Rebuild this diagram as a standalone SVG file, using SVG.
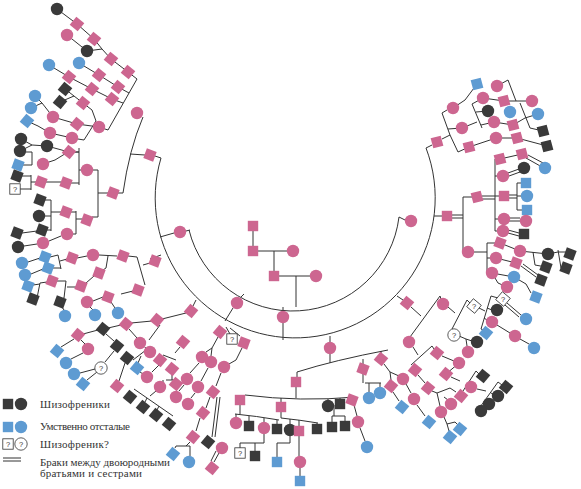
<svg xmlns="http://www.w3.org/2000/svg" xmlns:xlink="http://www.w3.org/1999/xlink" width="581" height="489" viewBox="0 0 581 489">
<style>
.p{fill:#cd6690}.k{fill:#3a3a3a}.b{fill:#5e9bd2}.q{fill:#fff;stroke:#333;stroke-width:0.8}
.c path{fill:none;stroke:#333;stroke-width:1}
.t{font-family:"Liberation Serif","DejaVu Serif",serif;font-size:11px;fill:#333}
.qm{font-family:"Liberation Sans",sans-serif;font-size:7.5px;fill:#333;text-anchor:middle}
</style>
<defs>
<rect id="s0" x="-5.2" y="-5.2" width="10.4" height="10.4"/>
<rect id="s20" x="-5.2" y="-5.2" width="10.4" height="10.4" transform="rotate(20)"/>
<rect id="s40" x="-5.2" y="-5.2" width="10.4" height="10.4" transform="rotate(40)"/>
<rect id="sm" x="-5.2" y="-5.2" width="10.4" height="10.4" transform="rotate(-15)"/>
<circle id="o" r="6.2"/>
</defs>
<rect width="581" height="489" fill="#fff"/>
<g id="connectors" class="c">
<path d="M161,158 A140,140 0 1 0 426,148 M189,230 A107,107 0 0 0 399,217 M253,231 V246 M258,251 H287 M274,251 V271 M279,276 H310 M296,276 V307 M186,231 L190,230 M405,220 L399,217 M241,297 L244,294 M233,308 L225,321 M283,307 V311 M283,323 V340 M155,156 L161,158 M426,148 L432,145 M434,216 H442 M397,296 L403,300 M330,336 V342 M196,300 L193,306 M174,233 L160,237 M161,255 L150,259"/>
<path d="M57,9 L77,24 L94,39 L102,49 M67,35 L87,51 L102,49 L111,59 L128,72 L137,79 M79,63 L99,75 L118,87 L129,93 M49,65 L69,77 L92,89 L112,99 L123,103 M137,79 L108,130 M65,89 L74,96 L60,102 M74,96 L83,103 L92,110 L96,121 M35,96 L42,103 L31,108 M42,103 L53,117 L77,124 L99,127 L108,130 M27,121 L38,126 L50,133 L72,138 L84,140 L96,121 M21,139 L32,145 L20,151 M32,145 L47,146 L69,152 L79,152 M143,117 Q129,150 123,193 M145,155 L130,154 M118,193 H123"/>
<path d="M26,152 H32 V165 H23 M43,164 L55,160 L68,152 M79,148 V185 M73,152 H79 M71,183 H79 M81,170 H79 M93,170 H98 V217 H92 M98,193 H108 M46,182 H61 M36,182 H31 M31,175 V190 M31,176 H22 M31,189 H20 M82,219 H76 M76,211 V234 M76,212 H71 M76,234 H73 M61,212 H51 M51,200 V231 M51,200 H45 M51,216 H45 M51,230 H47 M37,231 L22,233 M61,236 L49,241 M37,244 L24,246 M150,263 L143,265 M137,257 L145,285 M137,257 L128,256 M117,256 L99,255 M108,256 L106,268 L103,270 M87,256 L77,258 M67,259 L60,261 M58,255 L61,269 M58,255 L50,257 M61,268 L53,268 M40,258 L28,262 M43,269 L31,274 M94,276 L86,283 M76,287 L67,287 M66,281 L64,298 M66,281 L57,281 M64,298 L62,299 M47,282 L40,283 M40,283 L37,298 M40,284 L33,285 M133,291 L121,294 M113,297 H103 L93,301"/>
<path d="M90,307 L93,310 M111,302 L115,308 M62,307 L64,310 M186,313 L162,319 M152,321 L131,323 M121,325 L108,328 M98,330 L83,334 M74,339 L61,347 M81,340 L85,344 M83,353 L71,359 M106,334 L114,341 M129,329 L137,338 M114,351 L105,362 M97,372 L87,380 M95,369 L80,373 M145,347 L146,349 M146,350 L133,360 M141,356 L138,363 M125,363 L119,381 M140,372 L143,374 M160,325 L149,340 M180,347 L175,353 M163,355 L176,360 M172,374 V380 M166,380 H178 M163,380 V383 M160,364 L152,372 M156,391 L150,396 M134,389 L173,416 M147,398 L145,402 M159,406 L157,410 M230,334 L226,327 M240,336 L230,328 M242,348 L236,360 L229,364 M221,373 L216,386 M210,397 L206,408 M200,418 L196,431 M190,442 L186,446 M176,446 H190 M176,446 L175,448 M190,446 V456 M208,368 L201,381 M195,393 L191,398 M199,363 L190,373 M184,385 L179,391 M218,337 L212,348 L206,352 M212,348 L211,356 M217,397 L212,437 M220,397 L215,437 M219,453 L214,462 M216,451 L211,461"/>
<path d="M297,372 Q335,360 388,350 M330,354 V363 M297,372 V377 M363,359 V364 M381,351 V354 M245,395 Q300,402 356,397 M296,387 V398 M281,398 V402 M328,399 V400 M340,398 V399 M240,405 V414 M235,414 Q256,416 279,420 M236,414 V417 M249,416 V421 M264,418 V422 M277,420 V424 M281,412 V418 M281,418 Q300,420 318,423 M290,419 V424 M299,420 V426 M317,423 V424 M334,405 V416 M332,416 H345 M332,416 V422 M345,416 V421 M354,405 L357,416 M360,428 L365,441 M264,434 V443 M240,443 H264 M240,443 V448 M255,443 V451 M290,436 V443 H277 V457 M299,436 V456 M300,468 V476 M363,374 V383 M365,383 H381 M369,383 V392 M380,383 V387"/>
<path d="M411,307 L421,316 M440,296 L410,337 M440,296 L441,299 M448,307 L455,313 M467,300 L452,329 M467,300 L470,303 M479,308 L485,311 M491,296 L481,329 M491,296 L498,298 M487,308 L492,310 M484,318 L487,320 M481,329 L483,330 M507,303 L521,315 M505,305 L519,317 M497,325 L510,333 M520,339 L529,344 M459,336 L466,339 L472,341 M466,339 L467,346 M413,347 L418,355 M432,346 L411,365 M432,346 L434,349 M442,356 L454,361 M446,374 L459,363 M451,377 L460,381 M476,371 L463,391 M476,371 L479,374 M477,389 L486,391 M498,382 L478,410 M498,382 L502,385 M491,393 L493,394 M384,364 L390,372 L399,376 M390,372 L391,380 M393,392 L399,401 M406,384 L411,393 M417,405 L425,416 M418,375 L425,383 M432,391 L437,393 L440,406 M437,393 L450,388 L456,392 M444,397 L448,400 M444,417 L447,424 L449,431 M447,424 L455,422 L458,425"/>
<path d="M442,139 L450,135 M442,113 L450,135 L458,152 M442,113 L447,110 M453,108 L465,100 L477,84 M448,129 L462,128 L477,122 M472,104 L482,128 M472,104 L483,98 M476,112 L488,111 M481,125 L494,122 M483,98 L504,101 L532,101 M497,86 L508,80 L516,101 M494,122 L513,125 L525,118 L538,114 M520,103 L530,128 L543,131 M458,152 L469,147 L496,138 L517,138 L547,146 M500,159 L522,154 M526,158 L542,167 M528,155 L545,164 M508,173 L519,169 M509,176 L520,172 M495,159 V231 M495,159 H500 M495,176 H503 M495,196 H504 M495,219 H503 M495,231 H503 M482,196 H495 M482,199 H495 M452,215 H463 M452,218 H463 M463,197 V250 M463,197 H477 M463,250 L468,252 M509,195 H517 M509,198 H517 M517,183 V210 M517,183 H526 M517,196 H527 M517,210 H527 M509,218 H520 M509,221 H520 M508,230 L519,233 M508,233 L519,236 M474,252 H487 M487,243 V273 M487,243 H500 M487,258 H496 M487,273 H492 M500,243 L520,251 L548,254 M533,252 L535,265 L546,267 M548,254 L558,252 M558,250 L561,268 M558,252 H570 M561,268 H566 M496,258 L516,263 M521,266 L536,277 M523,264 L538,275 M492,273 L514,277 L526,284 L531,293 M492,273 L498,283 L507,287"/>
</g>
<g id="n1"><use href="#o" class="k" x="57" y="9"/></g>
<g id="n2"><use href="#s40" class="p" x="77" y="24"/></g>
<g id="n3"><use href="#o" class="p" x="67" y="35"/></g>
<g id="n4"><use href="#s40" class="p" x="94" y="39"/></g>
<g id="n5"><use href="#o" class="k" x="87" y="51"/></g>
<g id="n6"><use href="#s40" class="p" x="111" y="59"/></g>
<g id="n7"><use href="#s40" class="p" x="128" y="72"/></g>
<g id="n8"><use href="#o" class="b" x="49" y="65"/></g>
<g id="n9"><use href="#o" class="b" x="79" y="63"/></g>
<g id="n10"><use href="#s40" class="p" x="69" y="77"/></g>
<g id="n11"><use href="#s40" class="p" x="99" y="75"/></g>
<g id="n12"><use href="#s40" class="p" x="92" y="89"/></g>
<g id="n13"><use href="#s40" class="p" x="118" y="87"/></g>
<g id="n14"><use href="#s40" class="p" x="112" y="99"/></g>
<g id="n15"><use href="#s40" class="k" x="65" y="89"/></g>
<g id="n16"><use href="#s40" class="k" x="60" y="102"/></g>
<g id="n17"><use href="#s40" class="p" x="83" y="103"/></g>
<g id="n18"><use href="#o" class="p" x="137" y="113"/></g>
<g id="n19"><use href="#o" class="b" x="35" y="96"/></g>
<g id="n20"><use href="#o" class="b" x="31" y="108"/></g>
<g id="n21"><use href="#s40" class="b" x="27" y="121"/></g>
<g id="n22"><use href="#o" class="p" x="53" y="117"/></g>
<g id="n23"><use href="#s40" class="p" x="77" y="124"/></g>
<g id="n24"><use href="#o" class="p" x="99" y="127"/></g>
<g id="n25"><use href="#o" class="p" x="50" y="133"/></g>
<g id="n26"><use href="#o" class="p" x="72" y="138"/></g>
<g id="n27"><use href="#o" class="k" x="21" y="139"/></g>
<g id="n28"><use href="#o" class="k" x="20" y="151"/></g>
<g id="n29"><use href="#o" class="k" x="47" y="146"/></g>
<g id="n30"><use href="#s40" class="p" x="69" y="152"/></g>
<g id="n31"><use href="#s20" class="p" x="150" y="155"/></g>
<g id="n32"><use href="#s20" class="b" x="18" y="165"/></g>
<g id="n33"><use href="#o" class="p" x="43" y="164"/></g>
<g id="n34"><use href="#o" class="p" x="87" y="170"/></g>
<g id="n35"><use href="#s20" class="k" x="17" y="176"/></g>
<g id="n36"><use href="#s20" class="p" x="41" y="182"/></g>
<g id="n37"><use href="#s20" class="p" x="66" y="183"/></g>
<g id="n38"><use href="#s0" class="q" x="15" y="189"/><text class="qm" x="15" y="191.7">?</text></g>
<g id="n39"><use href="#s20" class="p" x="113" y="193"/></g>
<g id="n40"><use href="#s20" class="k" x="40" y="200"/></g>
<g id="n41"><use href="#s20" class="p" x="66" y="212"/></g>
<g id="n42"><use href="#o" class="k" x="39" y="216"/></g>
<g id="n43"><use href="#s20" class="p" x="87" y="220"/></g>
<g id="n44"><use href="#s20" class="k" x="17" y="233"/></g>
<g id="n45"><use href="#s20" class="k" x="42" y="230"/></g>
<g id="n46"><use href="#o" class="p" x="67" y="234"/></g>
<g id="n47"><use href="#o" class="p" x="180" y="232"/></g>
<g id="n48"><use href="#o" class="k" x="18" y="247"/></g>
<g id="n49"><use href="#o" class="p" x="43" y="243"/></g>
<g id="n50"><use href="#s20" class="b" x="45" y="257"/></g>
<g id="n51"><use href="#o" class="b" x="22" y="263"/></g>
<g id="n52"><use href="#s20" class="p" x="72" y="258"/></g>
<g id="n53"><use href="#o" class="p" x="93" y="255"/></g>
<g id="n54"><use href="#s20" class="p" x="123" y="256"/></g>
<g id="n55"><use href="#s20" class="p" x="155" y="261"/></g>
<g id="n56"><use href="#s20" class="b" x="48" y="268"/></g>
<g id="n57"><use href="#o" class="b" x="25" y="275"/></g>
<g id="n58"><use href="#s20" class="p" x="99" y="273"/></g>
<g id="n59"><use href="#s20" class="b" x="28" y="286"/></g>
<g id="n60"><use href="#s20" class="p" x="52" y="281"/></g>
<g id="n61"><use href="#s20" class="p" x="81" y="286"/></g>
<g id="n62"><use href="#s20" class="p" x="138" y="290"/></g>
<g id="n63"><use href="#s20" class="k" x="33" y="299"/></g>
<g id="n64"><use href="#s20" class="k" x="60" y="302"/></g>
<g id="n65"><use href="#o" class="p" x="87" y="302"/></g>
<g id="n66"><use href="#s20" class="p" x="108" y="297"/></g>
<g id="n67"><use href="#o" class="b" x="65" y="316"/></g>
<g id="n68"><use href="#o" class="b" x="95" y="315"/></g>
<g id="n69"><use href="#o" class="b" x="118" y="313"/></g>
<g id="n70"><use href="#s40" class="p" x="191" y="311"/></g>
<g id="n71"><use href="#s40" class="p" x="157" y="320"/></g>
<g id="n72"><use href="#s40" class="p" x="126" y="324"/></g>
<g id="n73"><use href="#s40" class="k" x="103" y="329"/></g>
<g id="n74"><use href="#s40" class="p" x="78" y="335"/></g>
<g id="n75"><use href="#o" class="p" x="88" y="349"/></g>
<g id="n76"><use href="#s40" class="k" x="117" y="346"/></g>
<g id="n77"><use href="#o" class="p" x="140" y="343"/></g>
<g id="n78"><use href="#o" class="p" x="150" y="352"/></g>
<g id="n79"><use href="#s40" class="p" x="183" y="342"/></g>
<g id="n80"><use href="#s40" class="b" x="57" y="351"/></g>
<g id="n81"><use href="#o" class="b" x="66" y="363"/></g>
<g id="n82"><use href="#s40" class="k" x="127" y="358"/></g>
<g id="n83"><use href="#o" class="q" x="101" y="368"/><text class="qm" x="101" y="370.7">?</text></g>
<g id="n84"><use href="#s40" class="b" x="137" y="368"/></g>
<g id="n85"><use href="#s40" class="p" x="160" y="360"/></g>
<g id="n86"><use href="#o" class="p" x="147" y="377"/></g>
<g id="n87"><use href="#s40" class="p" x="172" y="369"/></g>
<g id="n88"><use href="#o" class="b" x="74" y="374"/></g>
<g id="n89"><use href="#s40" class="b" x="83" y="384"/></g>
<g id="n90"><use href="#s40" class="p" x="117" y="386"/></g>
<g id="n91"><use href="#o" class="p" x="160" y="387"/></g>
<g id="n92"><use href="#s40" class="p" x="176" y="384"/></g>
<g id="n93"><use href="#s40" class="k" x="130" y="397"/></g>
<g id="n94"><use href="#s40" class="k" x="143" y="407"/></g>
<g id="n95"><use href="#s40" class="k" x="156" y="415"/></g>
<g id="n96"><use href="#s40" class="k" x="169" y="424"/></g>
<g id="n97"><use href="#o" class="p" x="187" y="379"/></g>
<g id="n98"><use href="#o" class="p" x="202" y="357"/></g>
<g id="n99"><use href="#o" class="p" x="211" y="362"/></g>
<g id="n100"><use href="#o" class="p" x="224" y="367"/></g>
<g id="n101"><use href="#s40" class="p" x="220" y="332"/></g>
<g id="n102"><use href="#o" class="p" x="237" y="303"/></g>
<g id="n103"><use href="#o" class="p" x="176" y="397"/></g>
<g id="n104"><use href="#s40" class="p" x="193" y="437"/></g>
<g id="n105"><use href="#s40" class="k" x="208" y="442"/></g>
<g id="n106"><use href="#s40" class="b" x="173" y="454"/></g>
<g id="n107"><use href="#o" class="b" x="189" y="462"/></g>
<g id="n108"><use href="#o" class="p" x="222" y="448"/></g>
<g id="n109"><use href="#s40" class="p" x="213" y="392"/></g>
<g id="n110"><use href="#s40" class="p" x="203" y="413"/></g>
<g id="n111"><use href="#s40" class="p" x="212" y="468"/></g>
<g id="n112"><use href="#s0" class="q" x="232" y="339"/><text class="qm" x="232" y="341.7">?</text></g>
<g id="n113"><use href="#s20" class="p" x="244" y="343"/></g>
<g id="n114"><use href="#o" class="p" x="198" y="387"/></g>
<g id="n115"><use href="#o" class="p" x="188" y="404"/></g>
<g id="n116"><use href="#o" class="p" x="236" y="423"/></g>
<g id="n117"><use href="#o" class="p" x="283" y="317"/></g>
<g id="n118"><use href="#o" class="p" x="330" y="348"/></g>
<g id="n119"><use href="#s0" class="p" x="296" y="382"/></g>
<g id="n120"><use href="#s20" class="p" x="363" y="369"/></g>
<g id="n121"><use href="#s0" class="p" x="240" y="400"/></g>
<g id="n122"><use href="#s0" class="p" x="281" y="407"/></g>
<g id="n123"><use href="#o" class="k" x="328" y="406"/></g>
<g id="n124"><use href="#s0" class="k" x="340" y="404"/></g>
<g id="n125"><use href="#s20" class="p" x="352" y="400"/></g>
<g id="n126"><use href="#o" class="b" x="369" y="398"/></g>
<g id="n127"><use href="#o" class="b" x="380" y="393"/></g>
<g id="n128"><use href="#o" class="p" x="358" y="422"/></g>
<g id="n129"><use href="#o" class="b" x="367" y="447"/></g>
<g id="n130"><use href="#s0" class="k" x="249" y="426"/></g>
<g id="n131"><use href="#o" class="p" x="264" y="428"/></g>
<g id="n132"><use href="#s0" class="k" x="277" y="429"/></g>
<g id="n133"><use href="#o" class="k" x="290" y="430"/></g>
<g id="n134"><use href="#s0" class="p" x="299" y="431"/></g>
<g id="n135"><use href="#s0" class="k" x="317" y="429"/></g>
<g id="n136"><use href="#s0" class="k" x="332" y="427"/></g>
<g id="n137"><use href="#s0" class="k" x="345" y="426"/></g>
<g id="n138"><use href="#s0" class="q" x="240" y="453"/><text class="qm" x="240" y="455.7">?</text></g>
<g id="n139"><use href="#s0" class="k" x="255" y="456"/></g>
<g id="n140"><use href="#s0" class="b" x="277" y="462"/></g>
<g id="n141"><use href="#o" class="p" x="300" y="462"/></g>
<g id="n142"><use href="#s0" class="b" x="300" y="481"/></g>
<g id="n143"><use href="#s40" class="p" x="407" y="303"/></g>
<g id="n144"><use href="#o" class="p" x="443" y="304"/></g>
<g id="n145"><use href="#s40" class="q" x="474" y="306"/><text class="qm" x="474" y="308.7">?</text></g>
<g id="n146"><use href="#s40" class="q" x="503" y="299"/><text class="qm" x="503" y="301.7">?</text></g>
<g id="n147"><use href="#o" class="k" x="497" y="310"/></g>
<g id="n148"><use href="#o" class="p" x="492" y="322"/></g>
<g id="n149"><use href="#o" class="b" x="526" y="319"/></g>
<g id="n150"><use href="#s40" class="b" x="486" y="333"/></g>
<g id="n151"><use href="#o" class="q" x="454" y="335"/><text class="qm" x="454" y="337.7">?</text></g>
<g id="n152"><use href="#o" class="k" x="477" y="342"/></g>
<g id="n153"><use href="#o" class="p" x="468" y="352"/></g>
<g id="n154"><use href="#o" class="p" x="515" y="336"/></g>
<g id="n155"><use href="#o" class="b" x="534" y="348"/></g>
<g id="n156"><use href="#o" class="p" x="409" y="342"/></g>
<g id="n157"><use href="#s40" class="p" x="437" y="353"/></g>
<g id="n158"><use href="#s40" class="p" x="381" y="359"/></g>
<g id="n159"><use href="#o" class="p" x="459" y="363"/></g>
<g id="n160"><use href="#s40" class="p" x="415" y="370"/></g>
<g id="n161"><use href="#s40" class="p" x="446" y="374"/></g>
<g id="n162"><use href="#s40" class="k" x="483" y="376"/></g>
<g id="n163"><use href="#o" class="p" x="403" y="379"/></g>
<g id="n164"><use href="#s40" class="p" x="391" y="386"/></g>
<g id="n165"><use href="#s40" class="p" x="428" y="388"/></g>
<g id="n166"><use href="#o" class="p" x="471" y="387"/></g>
<g id="n167"><use href="#s40" class="k" x="506" y="387"/></g>
<g id="n168"><use href="#o" class="p" x="414" y="399"/></g>
<g id="n169"><use href="#s40" class="p" x="461" y="396"/></g>
<g id="n170"><use href="#o" class="k" x="498" y="396"/></g>
<g id="n171"><use href="#o" class="p" x="451" y="404"/></g>
<g id="n172"><use href="#o" class="k" x="489" y="404"/></g>
<g id="n173"><use href="#o" class="k" x="481" y="411"/></g>
<g id="n174"><use href="#o" class="p" x="441" y="412"/></g>
<g id="n175"><use href="#s40" class="b" x="402" y="407"/></g>
<g id="n176"><use href="#s40" class="b" x="429" y="422"/></g>
<g id="n177"><use href="#s40" class="b" x="460" y="429"/></g>
<g id="n178"><use href="#s40" class="b" x="450" y="437"/></g>
<g id="n179"><use href="#sm" class="b" x="477" y="84"/></g>
<g id="n180"><use href="#o" class="p" x="497" y="86"/></g>
<g id="n181"><use href="#o" class="p" x="483" y="98"/></g>
<g id="n182"><use href="#sm" class="p" x="504" y="101"/></g>
<g id="n183"><use href="#o" class="p" x="532" y="101"/></g>
<g id="n184"><use href="#o" class="p" x="453" y="108"/></g>
<g id="n185"><use href="#o" class="k" x="488" y="111"/></g>
<g id="n186"><use href="#o" class="b" x="510" y="112"/></g>
<g id="n187"><use href="#o" class="b" x="538" y="114"/></g>
<g id="n188"><use href="#o" class="p" x="494" y="122"/></g>
<g id="n189"><use href="#o" class="p" x="462" y="128"/></g>
<g id="n190"><use href="#sm" class="p" x="513" y="125"/></g>
<g id="n191"><use href="#sm" class="k" x="543" y="131"/></g>
<g id="n192"><use href="#sm" class="p" x="437" y="142"/></g>
<g id="n193"><use href="#sm" class="p" x="469" y="147"/></g>
<g id="n194"><use href="#o" class="p" x="496" y="138"/></g>
<g id="n195"><use href="#sm" class="p" x="517" y="138"/></g>
<g id="n196"><use href="#sm" class="k" x="547" y="146"/></g>
<g id="n197"><use href="#sm" class="p" x="522" y="154"/></g>
<g id="n198"><use href="#sm" class="p" x="500" y="159"/></g>
<g id="n199"><use href="#o" class="k" x="524" y="168"/></g>
<g id="n200"><use href="#o" class="b" x="545" y="168"/></g>
<g id="n201"><use href="#o" class="p" x="503" y="176"/></g>
<g id="n202"><use href="#s0" class="b" x="526" y="183"/></g>
<g id="n203"><use href="#sm" class="p" x="477" y="197"/></g>
<g id="n204"><use href="#s0" class="p" x="504" y="196"/></g>
<g id="n205"><use href="#o" class="b" x="527" y="196"/></g>
<g id="n206"><use href="#s0" class="b" x="527" y="210"/></g>
<g id="n207"><use href="#s0" class="p" x="447" y="216"/></g>
<g id="n208"><use href="#o" class="p" x="411" y="221"/></g>
<g id="n209"><use href="#o" class="p" x="504" y="219"/></g>
<g id="n210"><use href="#o" class="p" x="526" y="221"/></g>
<g id="n211"><use href="#o" class="p" x="503" y="231"/></g>
<g id="n212"><use href="#s0" class="k" x="524" y="234"/></g>
<g id="n213"><use href="#s20" class="p" x="500" y="243"/></g>
<g id="n214"><use href="#o" class="p" x="468" y="252"/></g>
<g id="n215"><use href="#o" class="p" x="520" y="251"/></g>
<g id="n216"><use href="#o" class="k" x="548" y="254"/></g>
<g id="n217"><use href="#s20" class="k" x="570" y="254"/></g>
<g id="n218"><use href="#o" class="p" x="496" y="258"/></g>
<g id="n219"><use href="#s20" class="p" x="516" y="263"/></g>
<g id="n220"><use href="#s20" class="k" x="546" y="267"/></g>
<g id="n221"><use href="#s20" class="k" x="566" y="268"/></g>
<g id="n222"><use href="#o" class="p" x="492" y="273"/></g>
<g id="n223"><use href="#o" class="b" x="514" y="277"/></g>
<g id="n224"><use href="#s20" class="k" x="541" y="280"/></g>
<g id="n225"><use href="#o" class="p" x="507" y="287"/></g>
<g id="n226"><use href="#s20" class="b" x="536" y="297"/></g>
<g id="n227"><use href="#s0" class="p" x="253" y="226"/></g>
<g id="n228"><use href="#s0" class="p" x="253" y="251"/></g>
<g id="n229"><use href="#o" class="p" x="293" y="251"/></g>
<g id="n230"><use href="#s0" class="p" x="274" y="276"/></g>
<g id="n231"><use href="#o" class="p" x="316" y="276"/></g>
<g id="legend">
<use href="#s0" class="k" x="8" y="404"/><use href="#o" class="k" x="21" y="404"/>
<use href="#s0" class="b" x="8" y="427"/><use href="#o" class="b" x="21" y="427"/>
<use href="#s0" class="q" x="8" y="444"/><text class="qm" x="8" y="446.7">?</text>
<use href="#o" class="q" x="21" y="444"/><text class="qm" x="21" y="446.7">?</text>
<path d="M3,458 H21 M3,461 H21" fill="none" stroke="#333" stroke-width="1"/>
<text class="t" x="40" y="408" textLength="70" lengthAdjust="spacing">Шизофреники</text>
<text class="t" x="40" y="430" textLength="90" lengthAdjust="spacing">Умственно отсталые</text>
<text class="t" x="40" y="448" textLength="69" lengthAdjust="spacing">Шизофреник?</text>
<text class="t" x="40" y="466" textLength="130" lengthAdjust="spacing">Браки между двоюродными</text>
<text class="t" x="40" y="477" textLength="102" lengthAdjust="spacing">братьями и сестрами</text>
</g>
</svg>
